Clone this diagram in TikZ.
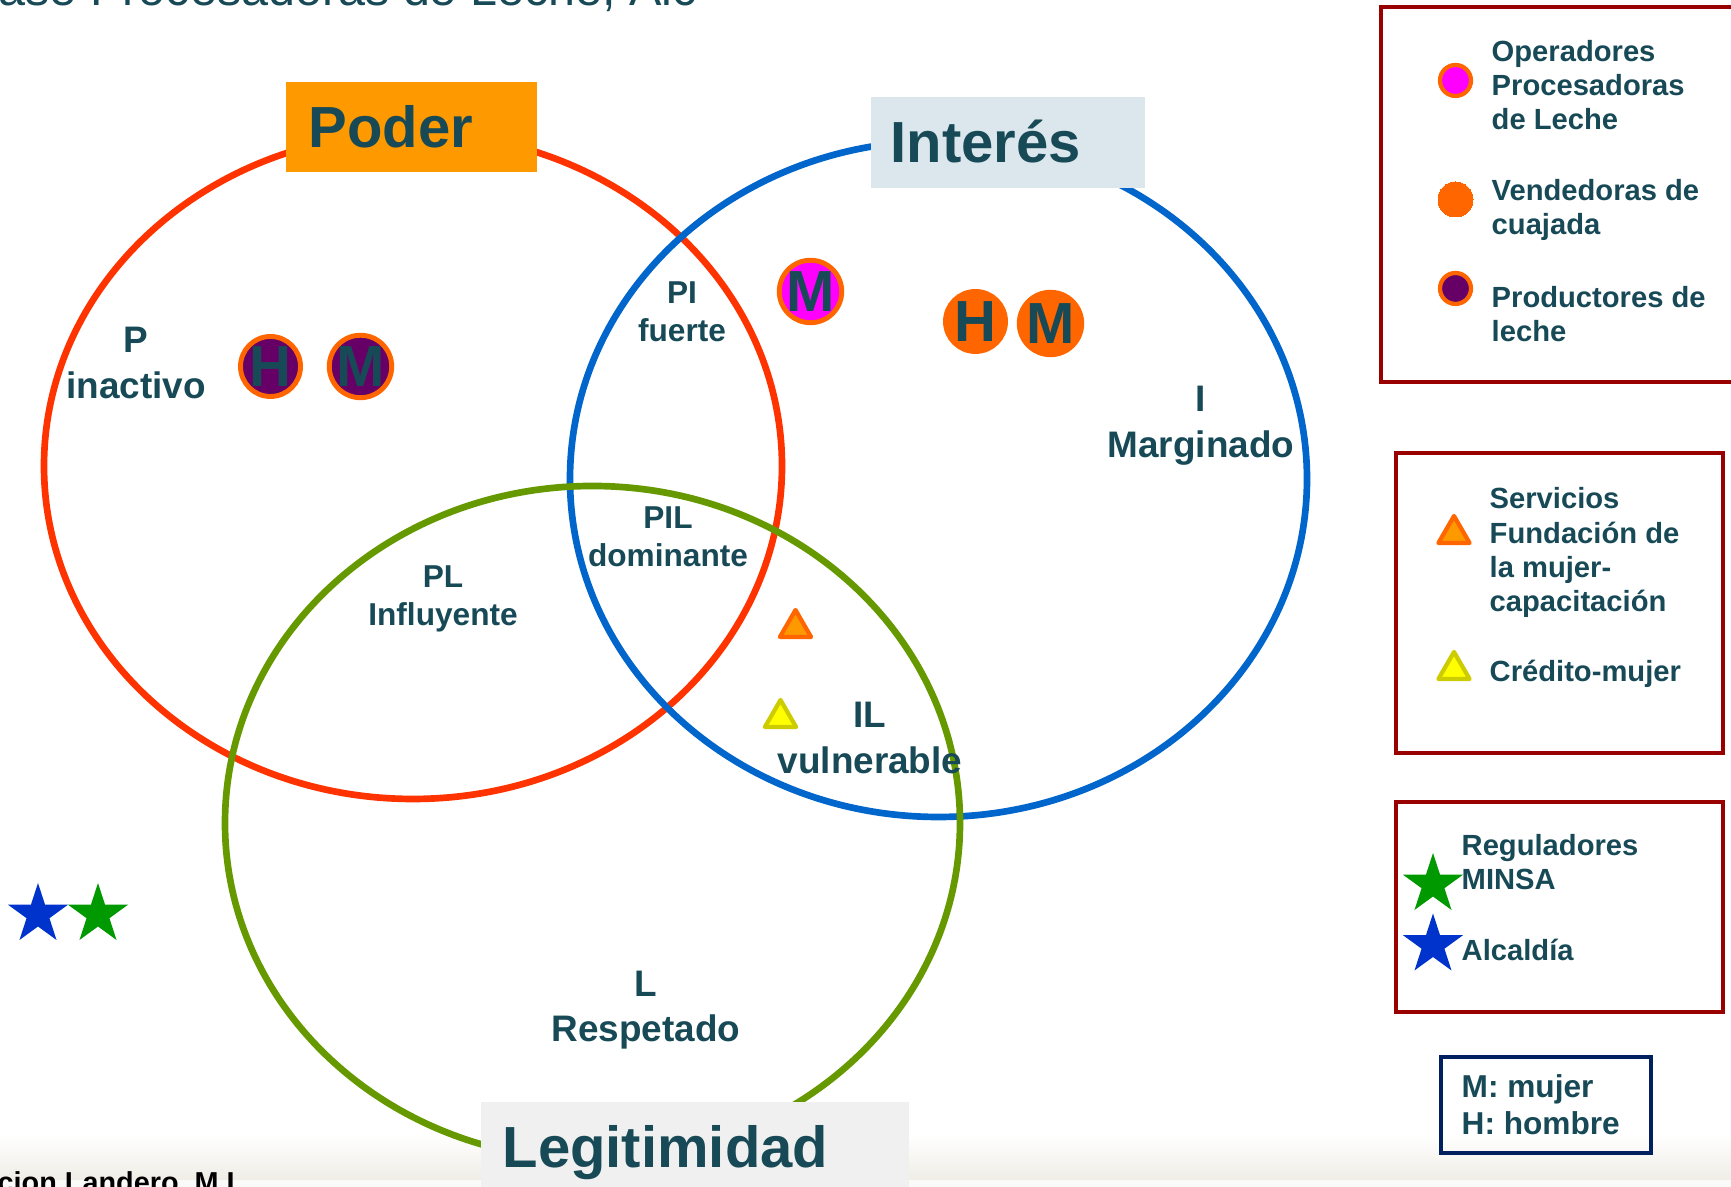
\documentclass[tikz,border=0pt]{standalone}
\usepackage{fontspec}
\setmainfont{Liberation Sans}
\usepackage{tikz}
\usetikzlibrary{shapes.geometric}
\definecolor{darkteal}{HTML}{174A56}
\definecolor{poderorange}{HTML}{FF9900}
\definecolor{ringorange}{HTML}{FF6600}
\definecolor{interesgray}{HTML}{DBE7EC}
\definecolor{legitgray}{HTML}{F0F0F0}
\definecolor{poderred}{HTML}{FF3300}
\definecolor{interesblue}{HTML}{0066CC}
\definecolor{legitgreen}{HTML}{669900}
\definecolor{boxred}{HTML}{990000}
\definecolor{navy}{HTML}{002060}
\definecolor{plum}{HTML}{660066}
\definecolor{pinkdot}{HTML}{FF00FF}
\definecolor{stargreen}{HTML}{009900}
\definecolor{starblue}{HTML}{0033CC}
\definecolor{trigold}{HTML}{CCCC00}
\definecolor{triyellow}{HTML}{FFFF00}
\definecolor{bandbeige}{RGB}{240,237,230}

\tikzset{
  region/.style={font=\bfseries\fontsize{9}{10.7}\selectfont, text=darkteal, align=center, inner sep=0},
  bigregion/.style={region, font=\bfseries\fontsize{10.5}{13}\selectfont},
  setlabel/.style={font=\bfseries\fontsize{16.5}{20}\selectfont, text=darkteal, anchor=base west, inner sep=0},
  setline/.style={line width=1.9pt},
  legendtext/.style={font=\bfseries\fontsize{8.3}{9.8}\selectfont, text=darkteal, align=left, anchor=base west, inner sep=0},
  legendbox/.style={draw=boxred, line width=1.4pt},
  actor/.style={circle, minimum size=0.6cm, inner sep=0, line width=1.4pt, draw=ringorange, text=darkteal, font=\bfseries\fontsize{16.5}{20}\selectfont},
  legenddot/.style={circle, minimum size=0.31cm, inner sep=0, line width=1.2pt, draw=ringorange},
  tri/.style={regular polygon, regular polygon sides=3, minimum size=0.36cm, inner sep=0, line width=1.2pt, line join=round},
  starmark/.style={star, star points=5, star point ratio=2.618, minimum size=0.63cm, inner sep=0}
}

\begin{document}
\begin{tikzpicture}
    \useasboundingbox (0,0) rectangle (17.31,11.87);
    \clip (0,0) rectangle (17.31,11.87);
    \fill[white] (0,0) rectangle (17.31,11.87);

    %% footer band
    \shade[top color=white, bottom color=bandbeige] (0,0.07) rectangle (17.31,0.52);
    \fill[bandbeige!30] (0,0) rectangle (17.31,0.07);

    %% heading (cut at the top)
    \node[font=\fontsize{13.8}{16}\selectfont, text=darkteal, anchor=base west, inner sep=0] (heading) at (-0.02,11.81) {ase Procesadoras de Leche, Alc};

    %% the three sets
    \draw[poderred, setline] (4.13,7.21) ellipse (3.69 and 3.33);
    \draw[interesblue, setline] (9.385,7.08) ellipse (3.685 and 3.38);
    \draw[legitgreen, setline] (5.925,3.64) ellipse (3.675 and 3.37);

    %% set titles
    \fill[poderorange] (2.86,10.15) rectangle (5.37,11.05);
    \node[setlabel] (poder) at (3.08,10.39) {Poder};
    \fill[interesgray] (8.71,9.99) rectangle (11.45,10.90);
    \node[setlabel] (interes) at (8.90,10.24) {Interés};
    \fill[legitgray] (4.81,-0.1) rectangle (9.09,0.85);
    \node[setlabel] (legit) at (5.02,0.19) {Legitimidad};

    %% region names
    \node[bigregion] (p) at (1.36,8.24) {P\\inactivo};
    \node[region] (pi) at (6.82,8.75) {PI\\fuerte};
    \node[bigregion] (i) at (12.01,7.61) {I\\Marginado};
    \node[region] (pil) at (6.68,6.50) {PIL\\dominante};
    \node[region] (pl) at (4.43,5.88) {PL\\Influyente};
    \node[bigregion] (il) at (8.70,4.49) {IL\\vulnerable};
    \node[bigregion] (l) at (6.46,1.77) {L\\Respetado};

    %% actors
    \node[actor, fill=plum] (hprod) at (2.705,8.205) {H};
    \node[actor, fill=plum] (mprod) at (3.605,8.205) {M};
    \node[actor, fill=pinkdot] (mproc) at (8.105,8.955) {M};
    \node[actor, fill=ringorange] (hvend) at (9.755,8.655) {H};
    \node[actor, fill=ringorange] (mvend) at (10.505,8.635) {M};
    \node[tri, fill=poderorange, draw=ringorange] (fund) at (7.955,5.59) {};
    \node[tri, fill=triyellow, draw=trigold] (cred) at (7.805,4.69) {};
    \node[starmark, fill=starblue] (alc) at (0.38,2.725) {};
    \node[starmark, fill=stargreen] (minsa) at (0.98,2.725) {};

    %% legend: actors
    \draw[legendbox] (13.81,8.05) rectangle (17.45,11.80);
    \node[legenddot, fill=pinkdot] (kproc) at (14.555,11.065) {};
    \node[legendtext] (tproc) at (14.91,10.57) {Operadores\\Procesadoras\\de Leche};
    \node[legenddot, fill=ringorange, minimum size=0.35cm, line width=0pt] (kvend) at (14.555,9.875) {};
    \node[legendtext] (tvend) at (14.91,9.52) {Vendedoras de\\cuajada};
    \node[legenddot, fill=plum] (kprod) at (14.555,8.985) {};
    \node[legendtext] (tprod) at (14.91,8.45) {Productores de\\leche};

    %% legend: services
    \draw[legendbox] (13.96,4.34) rectangle (17.23,7.34);
    \node[tri, fill=poderorange, draw=ringorange] (kfund) at (14.54,6.53) {};
    \node[legendtext] (tfund) at (14.89,5.75) {Servicios\\Fundación de\\la mujer-\\capacitación};
    \node[tri, fill=triyellow, draw=trigold] (kcred) at (14.54,5.17) {};
    \node[legendtext] (tcred) at (14.89,5.05) {Crédito-mujer};

    %% legend: regulators
    \draw[legendbox] (13.96,1.75) rectangle (17.23,3.85);
    \node[legendtext] (tminsa) at (14.61,2.97) {Reguladores\\MINSA};
    \node[legendtext] (talc) at (14.61,2.26) {Alcaldía};
    \node[starmark, fill=stargreen] (kminsa) at (14.33,3.025) {};
    \node[starmark, fill=starblue] (kalc) at (14.33,2.42) {};

    %% legend: letters
    \draw[navy, line width=0.9pt] (14.41,0.34) rectangle (16.51,1.30);
    \node[legendtext, font=\bfseries\fontsize{9}{10.8}\selectfont] (tsex) at (14.61,0.52) {M: mujer\\H: hombre};

    %% footer credit
    \node[font=\bfseries\fontsize{8.2}{10}\selectfont, anchor=base west, inner sep=0] (credit) at (-0.03,-0.06) {cion Landero, M.I.};
\end{tikzpicture}
\end{document}
